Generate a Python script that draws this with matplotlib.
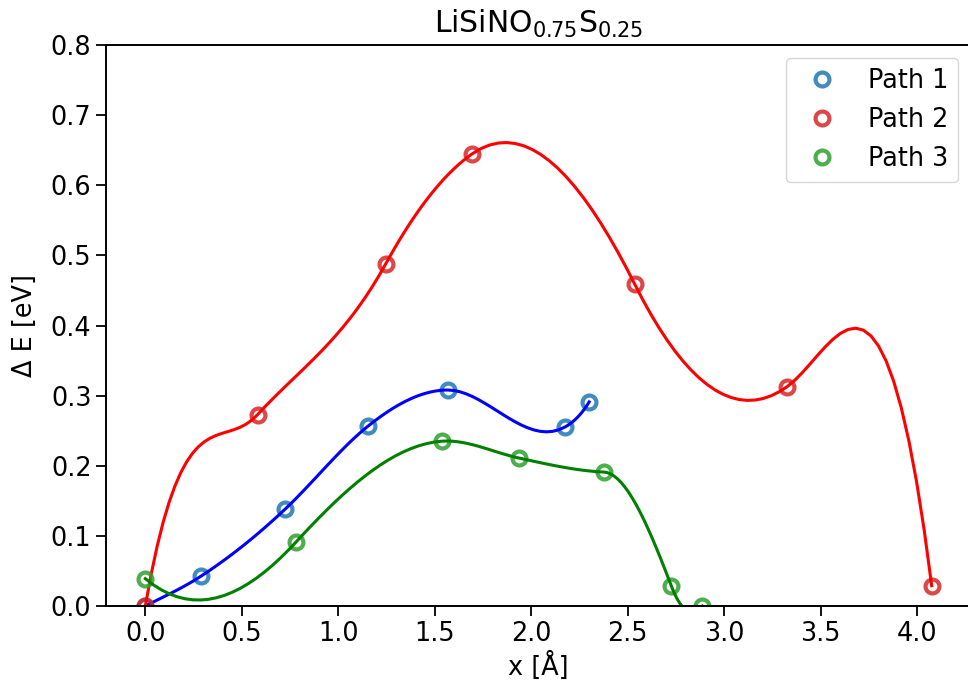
import numpy as np
import matplotlib
matplotlib.use("Agg")
import matplotlib.pyplot as plt

# ---- data ----
# image positions x [Å], energies dE [eV] and tangent slopes dE/dx [eV/Å]
path1_x = [0.0, 0.291, 0.724, 1.154, 1.567, 2.173, 2.300]
path1_y = [0.0, 0.043, 0.138, 0.2565, 0.308, 0.255, 0.291]
path1_dydx = [0.14, 0.18, 0.26, 0.22, 0.0, 0.15, 0.45]

path2_x = [0.0, 0.582, 1.246, 1.695, 2.536, 3.327, 4.075]
path2_y = [0.0, 0.273, 0.488, 0.645, 0.459, 0.313, 0.029]
path2_dydx = [1.6, 0.3, 0.5, 0.19, -0.55, 0.2, -2.2]

path3_x = [0.0, 0.782, 1.536, 1.936, 2.376, 2.726, 2.887]
path3_y = [0.039, 0.0915, 0.235, 0.211, 0.191, 0.0285, 0.0]
path3_dydx = [-0.23, 0.30, 0.02, -0.06, -0.013, -0.72, 0.3]

labels = ["Path 1", "Path 2", "Path 3"]
marker_colors = ["tab:blue", "tab:red", "tab:green"]
line_colors = ["b", "r", "g"]


def hermite_fit(x, y, m, npts=20):
    """Piecewise cubic through (x, y) with given slopes m, npts per segment."""
    xs_all, ys_all = [], []
    for i in range(len(x) - 1):
        h = x[i + 1] - x[i]
        t = np.linspace(0, 1, npts)
        h00 = 2 * t ** 3 - 3 * t ** 2 + 1
        h10 = t ** 3 - 2 * t ** 2 + t
        h01 = -2 * t ** 3 + 3 * t ** 2
        h11 = t ** 3 - t ** 2
        ys = y[i] * h00 + m[i] * h * h10 + y[i + 1] * h01 + m[i + 1] * h * h11
        xs_all.append(x[i] + t * h)
        ys_all.append(ys)
    return np.concatenate(xs_all), np.concatenate(ys_all)


W, H, DPI = 968, 694, 100
fig = plt.figure(figsize=(W / DPI, H / DPI), dpi=DPI)
left, right, top, bottom = 106, 971, 45, 606
ax = fig.add_axes([left / W, (H - bottom) / H, (right - left) / W, (bottom - top) / H])

paths = [(path1_x, path1_y, path1_dydx),
         (path2_x, path2_y, path2_dydx),
         (path3_x, path3_y, path3_dydx)]
for (px, py, pm), lab, mc, lc in zip(paths, labels, marker_colors, line_colors):
    ax.plot(px, py, linestyle="none", marker="o", markersize=10,
            markerfacecolor="none", markeredgecolor=mc, markeredgewidth=3.0,
            alpha=0.85, label=lab)
    fx, fy = hermite_fit(px, py, pm)
    ax.plot(fx, fy, color=lc, linewidth=2.2)

ax.set_ylim(0, 0.8)
ax.set_title(r"LiSiNO$_{0.75}$S$_{0.25}$", fontsize=21.5, pad=9)
ax.set_xlabel("x [Å]", fontsize=18.4)
ax.set_ylabel("Δ E [eV]", fontsize=18.4, labelpad=9)
ax.tick_params(labelsize=18.4, length=7, width=1.3)
for s in ax.spines.values():
    s.set_linewidth(1.4)
ax.legend(fontsize=18.4, loc="upper right")

fig.savefig("out.png", dpi=DPI)
